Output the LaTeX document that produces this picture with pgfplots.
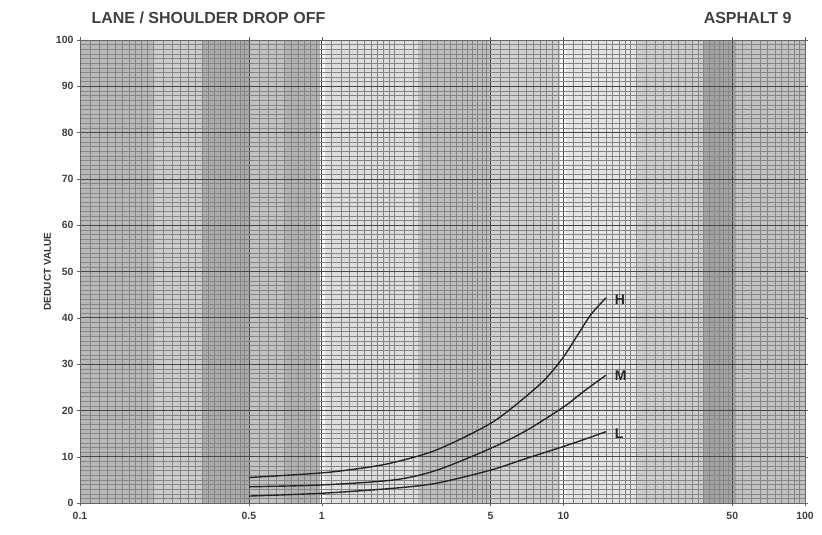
\documentclass[border=0pt]{standalone}
\usepackage{pgfplots}
\pgfplotsset{compat=1.18}
\usepackage{fontspec}
\setmainfont{Liberation Sans}

\begin{document}
\begin{tikzpicture}
\begin{axis}[
    name=ax,
    xmode=log,
    scale only axis,
    width=725pt, height=463pt,
    xmin=0.1, xmax=100, ymin=0, ymax=100,
    xtick={0.1,0.5,1,5,10,50,100},
    xticklabels={0.1,0.5,1,5,10,50,100},
    minor xtick={0.11,0.12,0.13,0.14,0.15,0.16,0.17,0.18,0.19,0.2,0.22,0.24,0.26,0.28,0.3,0.32,0.34,0.36,0.38,0.4,0.42,0.44,0.46,0.48,0.55,0.6,0.65,0.7,0.75,0.8,0.85,0.9,0.95,
                 1.1,1.2,1.3,1.4,1.5,1.6,1.7,1.8,1.9,2,2.2,2.4,2.6,2.8,3,3.2,3.4,3.6,3.8,4,4.2,4.4,4.6,4.8,5.5,6,6.5,7,7.5,8,8.5,9,9.5,
                 11,12,13,14,15,16,17,18,19,20,22,24,26,28,30,32,34,36,38,40,42,44,46,48,55,60,65,70,75,80,85,90,95},
    ytick={0,10,...,100},
    minor y tick num=9,
    grid=both,
    major grid style={black!72, line width=0.7pt},
    minor grid style={black!48, line width=0.45pt},
    axis line style={black!60},
    tick style={black!60},
    tick align=outside,
    major tick length=3pt, minor tick length=0pt,
    /pgf/number format/assume math mode=true,
    ticklabel style={font=\bfseries\fontsize{10.5}{12}\selectfont, text=black!75},
    xticklabel style={yshift=-3pt},
    ylabel={\bfseries DEDUCT VALUE},
    ylabel style={font=\fontsize{10}{11}\selectfont, text=black!80, yshift=-2pt},
    set layers,
]
% shaded bands of the chart paper (background)
\begin{pgfonlayer}{axis background}
\fill[black!28] (axis cs:0.1,0) rectangle (axis cs:0.2,100);
\fill[black!20] (axis cs:0.2,0) rectangle (axis cs:0.32,100);
\fill[black!33] (axis cs:0.32,0) rectangle (axis cs:0.5,100);
\fill[black!24] (axis cs:0.5,0) rectangle (axis cs:0.7,100);
\fill[black!30] (axis cs:0.7,0) rectangle (axis cs:0.98,100);
\fill[white] (axis cs:0.98,0) rectangle (axis cs:1.03,100);
\fill[black!13] (axis cs:1.03,0) rectangle (axis cs:2.5,100);
\fill[black!25] (axis cs:2.5,0) rectangle (axis cs:5,100);
\fill[black!19] (axis cs:5,0) rectangle (axis cs:9.7,100);
\fill[white] (axis cs:9.7,0) rectangle (axis cs:10.3,100);
\fill[black!10] (axis cs:10.3,0) rectangle (axis cs:20,100);
\fill[black!20] (axis cs:20,0) rectangle (axis cs:38,100);
\fill[black!36] (axis cs:38,0) rectangle (axis cs:52,100);
\fill[black!24] (axis cs:52,0) rectangle (axis cs:100,100);
\end{pgfonlayer}

\addplot[black!85, line width=1.4pt, smooth] coordinates {
    (0.5,5.5) (1,6.5) (1.5,7.6) (2,8.8) (3,11.5) (5,17.2) (7,23) (8.5,27) (10,31.5) (11.5,36.4) (13,40.7) (15,44.3)
};
\addplot[black!85, line width=1.4pt, smooth] coordinates {
    (0.5,3.5) (1,3.9) (2,5) (3,7.1) (5,11.8) (7,15.6) (10,20.7) (12,23.9) (15,27.6)
};
\addplot[black!85, line width=1.4pt, smooth] coordinates {
    (0.5,1.5) (1,2.1) (2,3.2) (3,4.3) (5,7.1) (7,9.6) (10,12.2) (12,13.6) (15,15.4)
};
\node[font=\bfseries\fontsize{14}{15}\selectfont, text=black!85, anchor=west] at (axis cs:15.8,44) {H};
\node[font=\bfseries\fontsize{14}{15}\selectfont, text=black!85, anchor=west] at (axis cs:15.8,27.5) {M};
\node[font=\bfseries\fontsize{14}{15}\selectfont, text=black!85, anchor=west] at (axis cs:15.8,15) {L};
\end{axis}
\node[anchor=base west, font=\bfseries\fontsize{16}{17}\selectfont, text=black!75]
    at ([xshift=8pt,yshift=16pt]ax.north west) {LANE / SHOULDER DROP OFF};
\node[anchor=base east, font=\bfseries\fontsize{16}{17}\selectfont, text=black!75]
    at ([xshift=-10pt,yshift=16pt]ax.north east) {ASPHALT 9};
\path[use as bounding box] ([xshift=-80pt,yshift=-32pt]ax.south west) rectangle ([xshift=17pt,yshift=40pt]ax.north east);
\end{tikzpicture}
\end{document}
